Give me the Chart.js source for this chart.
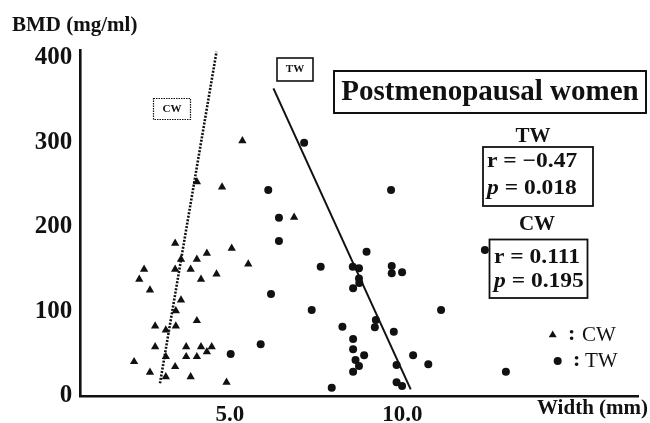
<!DOCTYPE html>
<html><head><meta charset="utf-8">
<script src="https://cdn.jsdelivr.net/npm/chart.js@4.4.1/dist/chart.umd.min.js"></script>
<style>html,body{margin:0;padding:0;background:#fff;}canvas{display:block;}</style>
</head><body>
<canvas id="c" width="650" height="423"></canvas>
<script>
// ---- data ----
const cwX = [4.04,4.77,5.36,6.86,3.41,3.58,4.04,4.33,5.05,5.53,2.51,3.41,3.86,4.61,2.37,4.16,2.68,3.58,3.43,4.04,2.83,3.43,3.14,2.83,3.73,4.16,4.47,4.33,3.14,3.73,4.04,2.22,3.41,2.68,3.14,3.86,4.90];
const cwY = [253.6,247.3,302.1,211.5,180.7,161.8,161.8,168.9,174.8,156.2,149.9,149.9,149.9,144.4,138.1,138.1,125.4,113.6,100.9,89.1,82.8,82.8,78.1,58.3,58.3,58.3,58.3,52.4,46.5,46.5,46.5,40.6,34.7,28.0,22.8,22.8,16.2];
const twX = [7.15,6.11,9.67,6.42,6.42,8.96,12.39,7.63,8.56,8.74,9.69,9.69,9.99,8.74,8.75,8.57,6.19,11.12,7.37,9.23,9.20,8.26,9.75,8.57,5.89,8.57,5.02,8.89,10.31,8.64,8.74,8.57,9.83,10.75,13.00,9.83,9.99,7.95];
const twY = [299.8,243.8,243.8,211.0,183.4,170.8,172.8,153.0,153.0,151.1,153.8,145.2,146.4,139.1,133.7,127.5,120.7,101.8,101.8,89.9,81.3,82.0,76.1,67.5,61.2,55.3,49.7,48.2,48.2,42.6,35.5,28.8,36.7,37.5,28.8,16.2,11.8,9.8];
const cwFitX = [2.97, 4.61];
const cwFitY = [15.0, 407.5];
const twFitX = [6.26, 10.24];
const twFitY = [364.0, 7.9];
const xTicks = [5, 10];
const yTicks = [0, 100, 200, 300, 400];

const SERIF = '"Liberation Serif", "Times New Roman", serif';
const INK = '#111';

function pts(xs, ys){ return xs.map((x,i)=>({x:x, y:ys[i]})); }

const bgPlugin = {
  id:'bg',
  beforeDraw(chart){
    const c = chart.ctx; c.save(); c.fillStyle='#fff'; c.fillRect(0,0,chart.width,chart.height); c.restore();
  }
};

const annot = {
  id:'annot',
  afterDraw(chart){
    const ctx = chart.ctx;
    ctx.save();
    ctx.fillStyle = INK; ctx.strokeStyle = INK;
    ctx.textBaseline = 'middle';
    // axis titles
    ctx.textAlign = 'left';
    ctx.font = 'bold 21px ' + SERIF;
    ctx.fillText('BMD (mg/ml)', 12, 26);
    ctx.font = 'bold 21px ' + SERIF;
    ctx.fillText('Width (mm)', 537, 409);
    // title box
    ctx.lineWidth = 2;
    ctx.strokeRect(334, 71, 312, 42);
    ctx.font = 'bold 29px ' + SERIF;
    ctx.textAlign = 'center';
    ctx.fillText('Postmenopausal women', 490, 93);
    // small line labels
    ctx.lineWidth = 1.2;
    ctx.setLineDash([1.5, 1]);
    ctx.strokeRect(153.5, 98.5, 37, 21);
    ctx.setLineDash([]);
    ctx.lineWidth = 1.6;
    ctx.strokeRect(277, 58, 36, 23);
    ctx.font = 'bold 11px ' + SERIF;
    ctx.fillText('CW', 172, 109.5);
    ctx.fillText('TW', 295, 69.5);
    // stats headings
    ctx.font = 'bold 21px ' + SERIF;
    ctx.fillText('TW', 533, 137);
    ctx.fillText('CW', 537, 225);
    // stats boxes
    ctx.lineWidth = 1.8;
    ctx.strokeRect(483, 147, 110, 59);
    ctx.strokeRect(489.5, 239.5, 98, 58.5);
    ctx.textAlign = 'left';
    const SX = 1.12;
    function stext(txt, x, y, italicFirst){
      ctx.save();
      ctx.translate(x, y);
      ctx.scale(SX, 1);
      let off = 0;
      if (italicFirst){
        ctx.font = 'italic bold 21px ' + SERIF;
        ctx.fillText(txt[0], 0, 0);
        off = ctx.measureText(txt[0]).width;
        txt = txt.slice(1);
      }
      ctx.font = 'bold 21px ' + SERIF;
      ctx.fillText(txt, off, 0);
      ctx.restore();
    }
    stext('r = \u22120.47', 487, 162, false);
    stext('p = 0.018', 487, 189, true);
    stext('r = 0.111', 494, 258, false);
    stext('p = 0.195', 494, 282, true);
    // legend
    const r = 4.6;
    ctx.beginPath();
    ctx.moveTo(552.7, 335 - r);
    ctx.lineTo(552.7 + r*0.866, 335 + r*0.5);
    ctx.lineTo(552.7 - r*0.866, 335 + r*0.5);
    ctx.closePath(); ctx.fill();
    ctx.beginPath(); ctx.arc(557.7, 361, 4, 0, Math.PI*2); ctx.fill();
    ctx.font = 'bold 22px ' + SERIF;
    ctx.fillText(':', 568, 334);
    ctx.fillText(':', 573, 360);
    ctx.font = '21px ' + SERIF;
    ctx.fillText('CW', 582, 335);
    ctx.fillText('TW', 585, 361);
    ctx.restore();
  }
};

new Chart(document.getElementById('c'), {
  type: 'scatter',
  data: {
    datasets: [
      { label:'CW', data: pts(cwX, cwY), pointStyle:'triangle', pointRadius:4.8, pointHoverRadius:4.8,
        backgroundColor: INK, borderWidth:0, order:2 },
      { label:'TW', data: pts(twX, twY), pointStyle:'circle', pointRadius:4, pointHoverRadius:4,
        backgroundColor: INK, borderWidth:0, order:2 },
      { label:'CW fit', data: pts(cwFitX, cwFitY), showLine:true, pointRadius:0, borderColor: INK,
        borderWidth:2.6, borderDash:[2,1.5], fill:false, order:1 },
      { label:'TW fit', data: pts(twFitX, twFitY), showLine:true, pointRadius:0, borderColor: INK,
        borderWidth:2, fill:false, order:1 }
    ]
  },
  options: {
    responsive:false, animation:false, devicePixelRatio:1,
    layout: { padding: { top:50, right:12, left:0, bottom:0 } },
    plugins: { legend:{display:false}, tooltip:{enabled:false} },
    scales: {
      x: {
        type:'linear', min:0.672, max:16.83,
        grid:{ display:false, drawTicks:false },
        border:{ display:true, color:INK, width:2.6 },
        afterBuildTicks(s){ s.ticks = xTicks.map(v=>({value:v})); },
        afterFit(s){ s.height = 27; },
        ticks:{ color:INK, padding:8, font:{ family:SERIF, size:23, weight:'bold', lineHeight:1 },
          callback:(v)=>Number(v).toFixed(1), maxRotation:0, autoSkip:false }
      },
      y: {
        type:'linear', min:0, max:409.5,
        grid:{ display:false, drawTicks:false },
        border:{ display:true, color:INK, width:2.6 },
        afterBuildTicks(s){ s.ticks = yTicks.map(v=>({value:v})); },
        afterFit(s){ s.width = 80.7; },
        ticks:{ color:INK, padding:8.5, font:{ family:SERIF, size:25, weight:'bold', lineHeight:1 }, autoSkip:false }
      }
    }
  },
  plugins:[bgPlugin, annot]
});
</script>
</body></html>
